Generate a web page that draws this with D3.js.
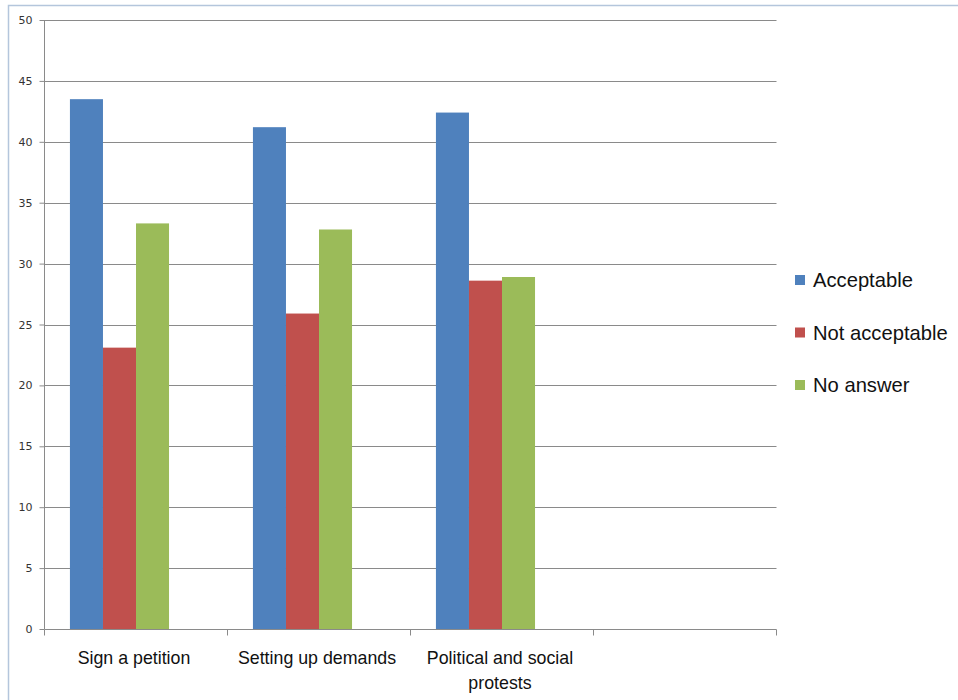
<!DOCTYPE html>
<html><head><meta charset="utf-8">
<script src="https://cdn.jsdelivr.net/npm/d3@7"></script>
<style>html,body{margin:0;padding:0;background:#fff;}svg{display:block;}</style>
</head><body>
<svg id="c" width="958" height="700"></svg>
<script>
const categories = ["Sign a petition", "Setting up demands", "Political and social protests", ""];
const seriesNames = ["Acceptable", "Not acceptable", "No answer"];
const acceptable = [43.5, 41.2, 42.4];
const notAcceptable = [23.1, 25.9, 28.6];
const noAnswer = [33.3, 32.8, 28.9];
const yTicks = [0, 5, 10, 15, 20, 25, 30, 35, 40, 45, 50];
const colors = ["#4F81BD", "#C0504D", "#9BBB59"];
const seriesValues = [acceptable, notAcceptable, noAnswer];

(function () {
const svg = d3.select("#c");
// frame
svg.append("rect").attr("x", 8.5).attr("y", 5.5).attr("width", 960).attr("height", 710)
  .attr("fill", "#fff").attr("stroke", "#b4c6dc").attr("stroke-width", 1.5);

const pL = 44.5, pR = 776.5, pT = 20, pB = 629;
const y = d3.scaleLinear().domain([0, 50]).range([pB, pT]);
const x0 = d3.scaleBand().domain(categories).range([pL, pR]).paddingInner(0).paddingOuter(0);
// inner band includes an empty 4th slot (as in the original chart)
const x1 = d3.scaleBand().domain([...seriesNames, "_"]).range([0, x0.bandwidth()]).paddingInner(0).paddingOuter(0.77);

// gridlines
svg.append("g").selectAll("line").data(yTicks.filter(d => d > 0)).join("line")
  .attr("x1", pL).attr("x2", pR)
  .attr("y1", d => Math.round(y(d)) + 0.5).attr("y2", d => Math.round(y(d)) + 0.5)
  .attr("stroke", "#8a8a8a").attr("stroke-width", 1);

// bars
const rows = [];
seriesValues.forEach((vals, si) => vals.forEach((v, ci) => rows.push({cat: categories[ci], s: seriesNames[si], v, si})));
svg.append("g").selectAll("rect").data(rows).join("rect")
  .attr("x", d => x0(d.cat) + x1(d.s))
  .attr("width", x1.bandwidth())
  .attr("y", d => y(d.v))
  .attr("height", d => y(0) - y(d.v))
  .attr("fill", d => colors[d.si]);

// y axis
const ya = svg.append("g").attr("transform", `translate(${pL},0)`)
  .call(d3.axisLeft(y).tickValues(yTicks).tickSize(5).tickPadding(7).tickFormat(d3.format("d")));
ya.select(".domain").attr("stroke", "#8a8a8a").attr("d", `M-0,${pT}V${pB}`);
ya.selectAll(".tick line").attr("stroke", "#8a8a8a");
ya.selectAll("text").attr("font-family", "'DejaVu Sans', Verdana, sans-serif").attr("font-size", 11).attr("fill", "#333");

// x axis
const xa = svg.append("g").attr("transform", `translate(0,${pB + 0.5})`);
xa.append("line").attr("x1", pL).attr("x2", pR).attr("stroke", "#8a8a8a");
const bounds = categories.map(c => x0(c)).concat([pR]);
xa.selectAll("line.t").data(bounds).join("line").attr("class", "t")
  .attr("x1", d => d).attr("x2", d => d).attr("y1", 0).attr("y2", 6).attr("stroke", "#8a8a8a");

const labelLines = {"Sign a petition": ["Sign a petition"], "Setting up demands": ["Setting up demands"],
  "Political and social protests": ["Political and social", "protests"], "": []};
categories.forEach(c => {
  const cx = x0(c) + x0.bandwidth() / 2 - 2;
  const t = svg.append("text").attr("x", cx).attr("y", 664)
    .attr("text-anchor", "middle").attr("font-family", "'Liberation Sans', Arial, sans-serif")
    .attr("font-size", 17.8).attr("fill", "#111");
  labelLines[c].forEach((l, i) => t.append("tspan").attr("x", cx).attr("dy", i ? 25 : 0).text(l));
});

// legend
const lg = svg.append("g").attr("transform", "translate(795,280)");
seriesNames.forEach((s, i) => {
  const g = lg.append("g").attr("transform", `translate(0,${i * 52.5})`);
  g.append("rect").attr("x", 0).attr("y", -5).attr("width", 10).attr("height", 10).attr("fill", colors[i]);
  g.append("text").attr("x", 18).attr("y", 7).attr("font-family", "'Liberation Sans', Arial, sans-serif")
    .attr("font-size", 20.2).attr("fill", "#111").text(s);
});
})();
</script>
</body></html>
